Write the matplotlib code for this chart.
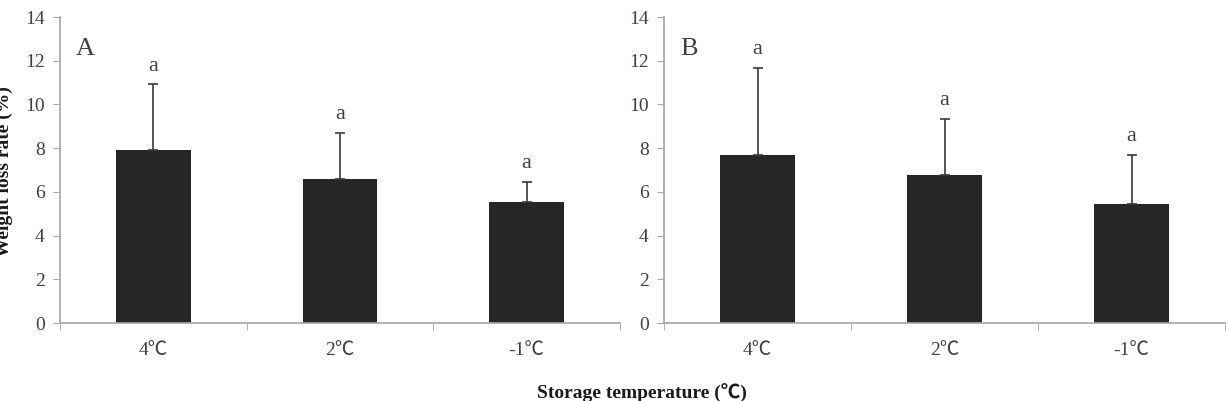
import matplotlib
matplotlib.use("Agg")
import matplotlib.pyplot as plt
import numpy as np

plt.rcParams['font.family'] = ['Liberation Serif', 'Noto Sans CJK SC', 'DejaVu Sans']

categories = ["4℃", "2℃", "-1℃"]
panel_labels = ["A", "B"]
# weight loss rate (%) and upper error for each panel
means_a = [7.92, 6.60, 5.55]
errs_a = [3.00, 2.11, 0.89]
means_b = [7.69, 6.77, 5.44]
errs_b = [3.97, 2.56, 2.25]
letters_a = ["a", "a", "a"]
letters_b = ["a", "a", "a"]

TEXT = "#404040"
SPINE = "#a6a6a6"
BAR = "#262626"

fig = plt.figure(figsize=(12.26, 4.01), dpi=100)
ax_a = fig.add_axes([60 / 1226, 78 / 401, 560 / 1226, 306 / 401])
ax_b = fig.add_axes([664 / 1226, 78 / 401, 561 / 1226, 306 / 401])


def draw_panel(ax, means, errs, letters, label):
    x = np.arange(len(categories))
    ax.bar(x, means, width=0.4, color=BAR, zorder=2)
    ax.errorbar(x, means, yerr=[np.zeros(len(errs)), errs], fmt="none",
                ecolor="#3a3a3a", elinewidth=1.2, capsize=3.5, capthick=1.2, zorder=3)
    for xi, m, e, t in zip(x, means, errs, letters):
        ax.text(xi, m + e + 0.4, t, ha="center", va="bottom", fontsize=16, color=TEXT)
    ax.text(0.045, 0.93, label, transform=ax.transAxes, ha="center", va="top",
            fontsize=19, color=TEXT)

    ax.set_xlim(-0.5, len(categories) - 0.5)
    ax.set_ylim(0, 14)
    ax.set_yticks(np.arange(0, 15, 2))
    ax.set_xticks(x)
    ax.set_xticklabels(categories)
    ax.set_xticks(np.arange(-0.5, len(categories), 1.0), minor=True)
    ax.tick_params(axis="x", which="major", length=0, pad=14, labelsize=14, labelcolor=TEXT)
    ax.tick_params(axis="x", which="minor", length=5, color=SPINE, direction="out")
    ax.tick_params(axis="y", length=5, color=SPINE, labelsize=14, labelcolor=TEXT, pad=6)
    for s in ["top", "right"]:
        ax.spines[s].set_visible(False)
    for s in ["left", "bottom"]:
        ax.spines[s].set_color(SPINE)
        ax.spines[s].set_linewidth(1.2)


draw_panel(ax_a, means_a, errs_a, letters_a, panel_labels[0])
draw_panel(ax_b, means_b, errs_b, letters_b, panel_labels[1])

fig.text(642 / 1226, 1 - 393 / 401, "Storage temperature (℃)", ha="center", va="center",
         fontsize=14, fontweight="bold", color="#1a1a1a")
fig.text(4 / 1226, 1 - 172 / 401, "Weight loss rate (%)", ha="center", va="center", rotation=90,
         fontsize=14, fontweight="bold", color="#1a1a1a")

fig.savefig("out.png", dpi=100)
